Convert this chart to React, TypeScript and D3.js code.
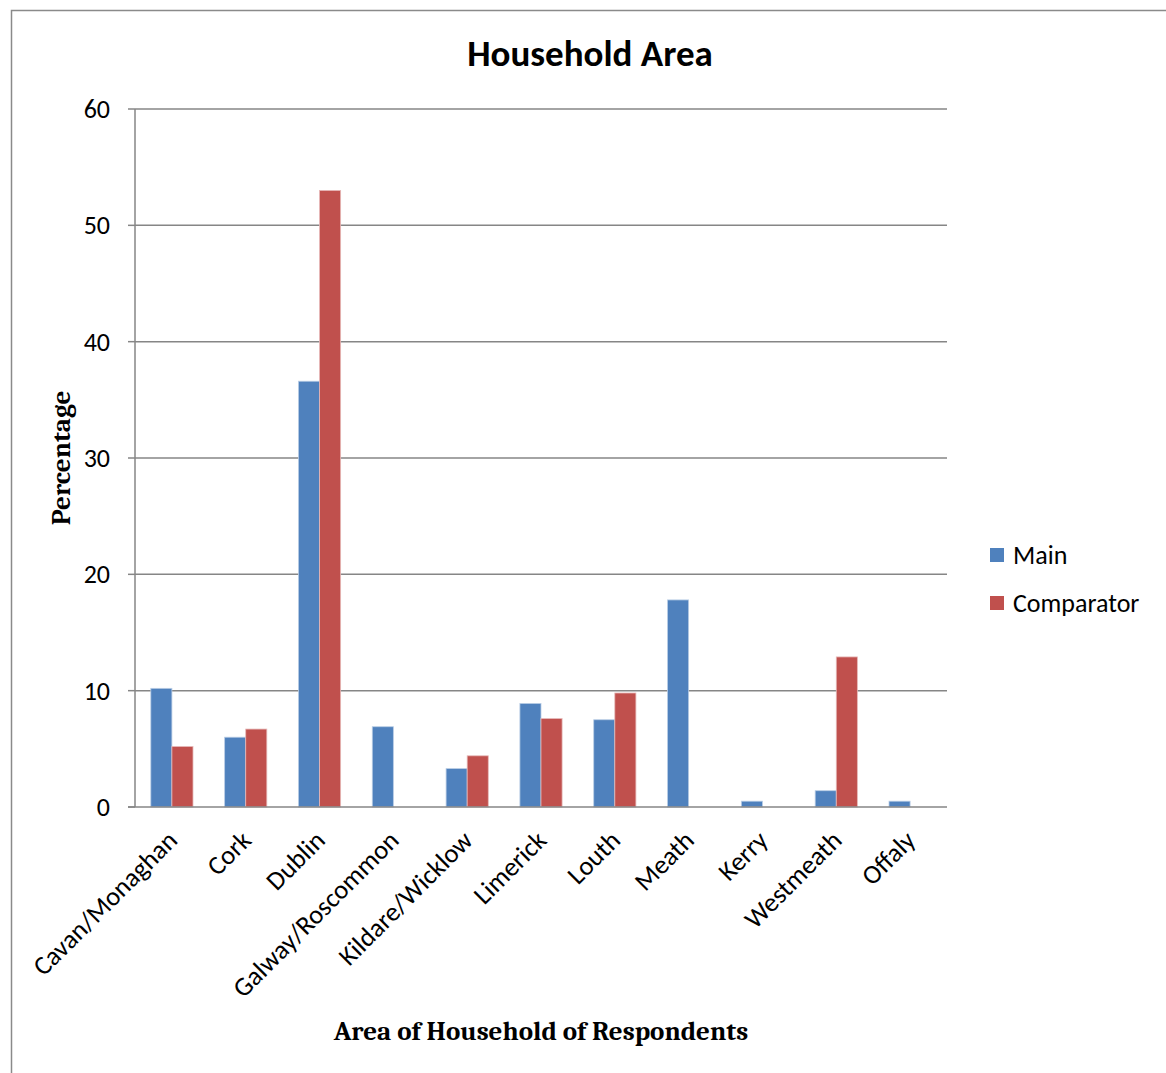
import React from "react";
import * as d3 from "d3";

const categories = [
  "Cavan/Monaghan", "Cork", "Dublin", "Galway/Roscommon", "Kildare/Wicklow",
  "Limerick", "Louth", "Meath", "Kerry", "Westmeath", "Offaly",
];
const mainValues = [10.2, 6.0, 36.6, 6.9, 3.3, 8.9, 7.5, 17.8, 0.5, 1.4, 0.5];
const comparatorValues = [5.2, 6.7, 53.0, 0, 4.4, 7.6, 9.8, 0, 0, 12.9, 0];
const seriesNames = ["Main", "Comparator"];
const seriesColors = ["#4F81BD", "#C0504D"];
const seriesStrokes = ["#B9CDE5", "#E6B9B8"];
const yTicks = [0, 10, 20, 30, 40, 50, 60];

const W = 1166, H = 1073;
const plot = { left: 135, right: 947, top: 109, bottom: 807 };
const sansFont = "Carlito, 'Open Sans', Calibri, sans-serif";
const serifFont = "Caladea, 'Liberation Serif', Cambria, serif";

export default function App() {
  const x0 = d3.scaleBand<string>().domain(categories).range([plot.left, plot.right]).paddingInner(0).paddingOuter(0);
  const step = x0.bandwidth();
  const barW = step / 3.5;
  const x1 = d3.scaleBand<string>().domain(seriesNames).range([0, barW * 2]);
  const y = d3.scaleLinear().domain([0, 60]).range([plot.bottom, plot.top]);
  const series = [mainValues, comparatorValues];

  return (
    <svg width={W} height={H} style={{ position: "absolute", left: 0, top: 0 }}>
      <rect x={0} y={0} width={W} height={H} fill="#fff" />
      <rect x={11.5} y={10.5} width={1200} height={1200} fill="none" stroke="#8a8a8a" strokeWidth={1.5} />
      <text x={590} y={66} textAnchor="middle" fontFamily={sansFont} fontWeight="bold" fontSize={37} fill="#000">
        Household Area
      </text>
      {yTicks.map((t) => (
        <g key={t}>
          {t !== 0 && (
            <line x1={plot.left} x2={plot.right} y1={y(t)} y2={y(t)} stroke="#868686" strokeWidth={1.5} />
          )}
          <line x1={plot.left - 7} x2={plot.left} y1={y(t)} y2={y(t)} stroke="#868686" strokeWidth={1.5} />
          <text x={110} y={y(t)} dy="0.35em" textAnchor="end" fontFamily={sansFont} fontSize={26} fill="#000">
            {t}
          </text>
        </g>
      ))}
      {categories.map((c, i) => (
        <g key={c}>
          {series.map((vals, s) => {
            const v = vals[i];
            if (!v) return null;
            const bx = (x0(c) as number) + (step - barW * 2) / 2 + (x1(seriesNames[s]) as number);
            return (
              <rect
                key={s}
                x={bx}
                y={y(v)}
                width={barW}
                height={y(0) - y(v)}
                fill={seriesColors[s]}
                stroke={seriesStrokes[s]}
                strokeWidth={0.8}
              />
            );
          })}
        </g>
      ))}
      <line x1={plot.left} x2={plot.left} y1={plot.top} y2={plot.bottom} stroke="#868686" strokeWidth={1.5} />
      <line x1={plot.left - 7} x2={plot.right} y1={plot.bottom} y2={plot.bottom} stroke="#868686" strokeWidth={1.5} />
      {categories.map((c) => {
        const cx = (x0(c) as number) + step / 2 + 7;
        const cy = plot.bottom + 35;
        return (
          <text
            key={c}
            transform={`translate(${cx},${cy}) rotate(-45)`}
            textAnchor="end"
            fontFamily={sansFont}
            fontSize={26.5}
            fill="#000"
          >
            {c}
          </text>
        );
      })}
      <text
        transform={`translate(70,458) rotate(-90)`}
        textAnchor="middle"
        fontFamily={serifFont}
        fontWeight="bold"
        fontSize={27}
        fill="#000"
      >
        Percentage
      </text>
      <text x={541} y={1040} textAnchor="middle" fontFamily={serifFont} fontWeight="bold" fontSize={27} fill="#000">
        Area of Household of Respondents
      </text>
      {seriesNames.map((n, s) => (
        <g key={n} transform={`translate(990,${548 + s * 48})`}>
          <rect x={0} y={0} width={14} height={14} fill={seriesColors[s]} />
          <text x={23} y={7} dy="0.35em" fontFamily={sansFont} fontSize={26} fill="#000">
            {n}
          </text>
        </g>
      ))}
    </svg>
  );
}
